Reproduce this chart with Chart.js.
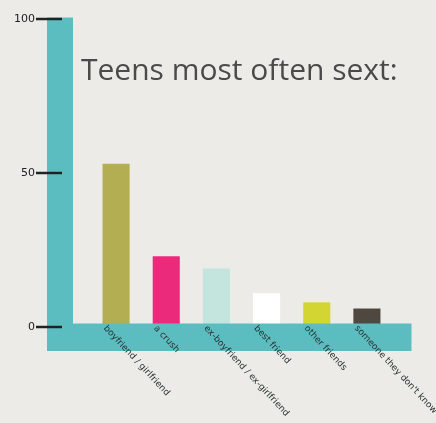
<!DOCTYPE html>
<html>
<head>
<meta charset="utf-8">
<script src="https://cdn.jsdelivr.net/npm/chart.js@4/dist/chart.umd.min.js"></script>
<style>
  html, body { margin: 0; padding: 0; background: #edebe7; }
  canvas { display: block; }
</style>
</head>
<body>
<canvas id="myChart" width="436" height="423"></canvas>
<script>
(function () {

  "use strict";

  var titleText = "Teens most often sext:";
  var categories = ["boyfriend / girlfriend", "a crush", "ex-boyfriend / ex-girlfriend",
    "best friend", "other friends", "someone they don't know"];
  var percentages = [53, 23, 19, 11, 8, 6];
  var barColors = ["#b3ae52", "#ec2a7b", "#c3e5dd", "#ffffff", "#d3d533", "#4e4841"];
  var yTicks = [0, 50, 100];

  var teal = "#5cbdc0";

  // background, teal L-shaped axes, ticks, title and slanted labels
  var decor = {
    id: "decor",
    beforeDraw: function (chart) {
      var ctx = chart.ctx;
      ctx.save();
      ctx.fillStyle = "#edebe7";
      ctx.fillRect(0, 0, chart.width, chart.height);
      ctx.restore();
    },
    beforeDatasetsDraw: function (chart) {
      var ctx = chart.ctx, area = chart.chartArea, y = chart.scales.y;
      var top = y.getPixelForValue(100) - 1.5;
      var bottom = y.getPixelForValue(0) + 24;
      ctx.save();
      ctx.fillStyle = teal;
      ctx.fillRect(area.left - 44, top, 26, bottom - top);

      ctx.fillStyle = "#4a4a4a";
      ctx.font = "30px 'Open Sans'";
      ctx.textBaseline = "alphabetic";
      ctx.fillText(titleText, area.left - 10, 80);
      ctx.restore();
    },
    afterDatasetsDraw: function (chart) {
      var ctx = chart.ctx, area = chart.chartArea;
      var x = chart.scales.x, y = chart.scales.y;
      var zero = y.getPixelForValue(0);
      ctx.save();
      ctx.fillStyle = teal;
      ctx.fillRect(area.left - 44, zero - 3.5, area.right + 19.5 - (area.left - 44), 27.5);

      // y ticks
      ctx.strokeStyle = "#1e2424";
      ctx.lineWidth = 2.5;
      ctx.fillStyle = "#222";
      ctx.font = "11px 'DejaVu Sans'";
      ctx.textAlign = "right";
      ctx.textBaseline = "middle";
      yTicks.forEach(function (t) {
        var py = y.getPixelForValue(t);
        ctx.beginPath();
        ctx.moveTo(area.left - 55, py);
        ctx.lineTo(area.left - 29, py);
        ctx.stroke();
        ctx.fillText(String(t), area.left - 56, py);
      });

      // slanted category labels
      ctx.fillStyle = "#263334";
      ctx.font = "9px 'DejaVu Sans'";
      ctx.textAlign = "left";
      categories.forEach(function (c, i) {
        ctx.save();
        ctx.translate(x.getPixelForValue(i) - 11, zero);
        ctx.rotate(47 * Math.PI / 180);
        ctx.fillText(c, 0, 0);
        ctx.restore();
      });
      ctx.restore();
    }
  };

  var ctx = document.getElementById("myChart").getContext("2d");
  var myChart = new Chart(ctx, {
    type: "bar",
    data: {
      labels: categories,
      datasets: [{
        data: percentages,
        backgroundColor: barColors,
        borderWidth: 0,
        categoryPercentage: 1,
        barPercentage: 0.54
      }]
    },
    options: {
      responsive: false,
      animation: false,
      devicePixelRatio: 1,
      layout: { padding: { left: 91, right: 44, top: 19, bottom: 96 } },
      scales: {
        x: { display: false },
        y: { display: false, min: 0, max: 100 }
      },
      plugins: {
        legend: { display: false },
        tooltip: { enabled: false }
      }
    },
    plugins: [decor]
  });
})();
</script>
</body>
</html>
